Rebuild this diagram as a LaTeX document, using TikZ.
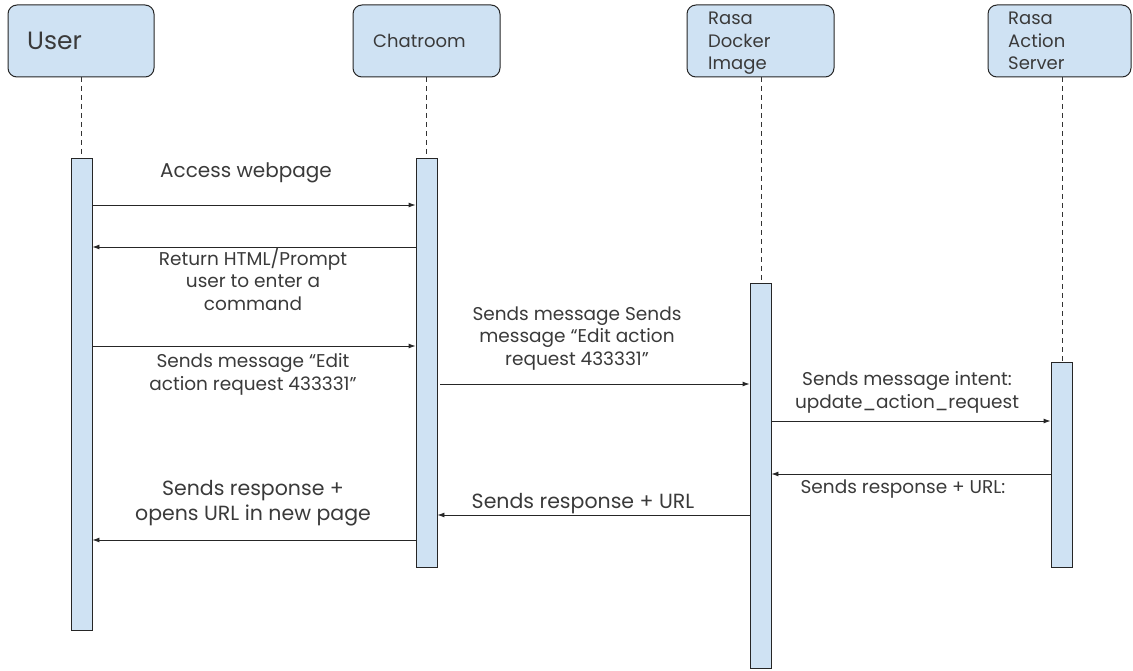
\documentclass[tikz,border=0pt]{standalone}
\usepackage{fontspec}
\setmainfont{Poppins}
\usetikzlibrary{arrows.meta}
\definecolor{actfill}{HTML}{CFE2F3}
\definecolor{txt}{HTML}{3A3A3A}
\begin{document}
\begin{tikzpicture}[x=1pt,y=-1pt,
  headbox/.style={draw=black!85,fill=actfill,rounded corners=9pt,line width=1pt},
  actbar/.style={draw=black!85,fill=actfill,line width=0.9pt},
  life/.style={black!80,dashed,dash pattern=on 5pt off 4pt,line width=0.8pt},
  msg/.style={-{Latex[length=7pt,width=5pt]},line width=0.9pt,black!85},
  lbl/.style={text=txt,font=\fontsize{18.5}{22.5}\selectfont,align=center,inner sep=0pt,anchor=base},
  headtxt/.style={text=txt,font=\fontsize{18}{22.5}\selectfont,inner sep=0pt,align=left,anchor=base west}]
\useasboundingbox (0,0) rectangle (1133,671);
% heads
\draw[headbox] (8,5) rectangle (154,77);
\node[anchor=base west,text=txt,font=\fontsize{25}{28}\selectfont,inner sep=0pt] (userlbl) at (27,50) {User};
\draw[headbox] (353,5) rectangle (500,77);
\node[headtxt] (chatlbl) at (373,48) {Chatroom};
\draw[headbox] (687,5) rectangle (834,77);
\node[headtxt] (docklbl) at (708,70) {Rasa\\Docker\\Image};
\draw[headbox] (988,5) rectangle (1131,77);
\node[headtxt] (actlbl) at (1008,70) {Rasa\\Action\\Server};
% lifelines
\draw[life] (81,77) -- (81,158);
\draw[life] (426,77) -- (426,158);
\draw[life] (761,77) -- (761,283);
\draw[life] (1062,77) -- (1062,362);
% activation bars
\node[actbar,minimum width=21pt,minimum height=472pt,inner sep=0pt,anchor=north] (userbar) at (81.5,158) {};
\node[actbar,minimum width=21pt,minimum height=409pt,inner sep=0pt,anchor=north] (chatbar) at (426.5,158) {};
\node[actbar,minimum width=21pt,minimum height=385pt,inner sep=0pt,anchor=north] (dockbar) at (760.5,283) {};
\node[actbar,minimum width=21pt,minimum height=205pt,inner sep=0pt,anchor=north] (actbar1) at (1061.5,362) {};
% messages
\draw[msg] (userbar.east |- 0,205) -- (chatbar.west |- 0,205);
\node[lbl,font=\fontsize{20}{22}\selectfont] (m1) at (246,178) {Access webpage};
\draw[msg] (chatbar.west |- 0,247) -- (userbar.east |- 0,247);
\node[lbl] (m2) at (253,310) {Return HTML/Prompt\\user to enter a\\command};
\draw[msg] (userbar.east |- 0,346) -- (chatbar.west |- 0,346);
\node[lbl] (m3) at (253,390) {Sends message “Edit\\action request 433331”};
\draw[msg] (440,384) -- (dockbar.west |- 0,384);
\node[lbl] (m4) at (577,365) {Sends message Sends\\message “Edit action\\request 433331”};
\draw[msg] (dockbar.east |- 0,421) -- (actbar1.west |- 0,421);
\node[lbl] (m5) at (907,408) {Sends message intent:\\update\_action\_request};
\draw[msg] (actbar1.west |- 0,474) -- (dockbar.east |- 0,474);
\node[lbl] (m6) at (903,493) {Sends response + URL:};
\draw[msg] (dockbar.west |- 0,515) -- (chatbar.east |- 0,515);
\node[lbl,font=\fontsize{20.5}{22}\selectfont] (m7) at (583,508) {Sends response + URL};
\draw[msg] (chatbar.west |- 0,540) -- (userbar.east |- 0,540);
\node[lbl,font=\fontsize{20.5}{25}\selectfont] (m8) at (253,520) {Sends response +\\opens URL in new page};
\end{tikzpicture}
\end{document}
